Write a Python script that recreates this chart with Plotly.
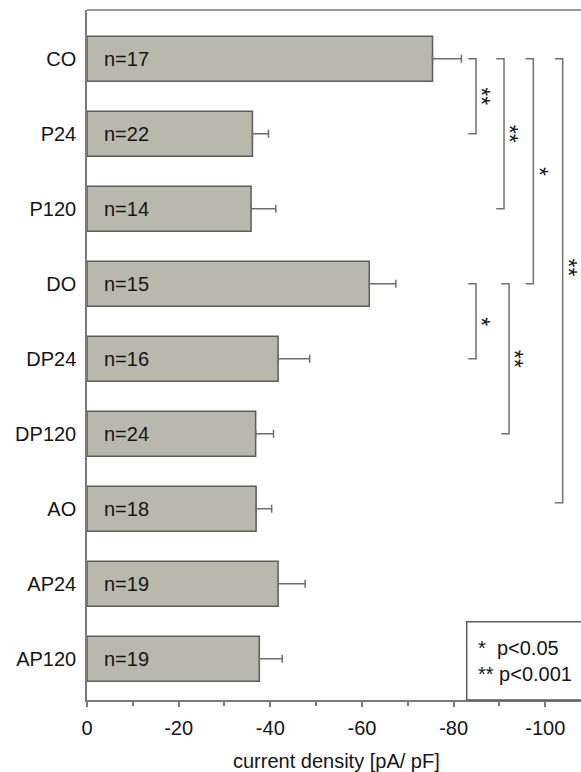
import plotly.graph_objects as go

categories = ["CO", "P24", "P120", "DO", "DP24", "DP120", "AO", "AP24", "AP120"]
n_labels = ["n=17", "n=22", "n=14", "n=15", "n=16", "n=24", "n=18", "n=19", "n=19"]
current_density = [-75.4, -36.1, -35.8, -61.6, -41.7, -36.8, -36.9, -41.7, -37.6]
sem = [6.3, 3.5, 5.4, 5.8, 6.9, 3.9, 3.4, 5.9, 5.0]

# significance brackets: (from category, to category, label)
brackets = [
    ("CO", "P24", "**"),
    ("CO", "P120", "**"),
    ("CO", "DO", "*"),
    ("CO", "AO", "**"),
    ("DO", "DP24", "*"),
    ("DO", "DP120", "**"),
]
bracket_x = [-84.9, -91.0, -97.4, -103.8, -84.9, -92.1]
bracket_label_y = [0.5, 1.0, 1.5, 2.78, 3.5, 4.0]

x_tickvals = [0, -20, -40, -60, -80, -100]
x_ticktext = ["0", "-20", "-40", "-60", "-80", "-100"]
x_title = "current density [pA/ pF]"
legend_lines = ["*&nbsp;&nbsp;p<0.05", "**&nbsp;p<0.001"]

FONT = "Liberation Sans, Arial, sans-serif"
AX = "#7a7a7a"
ypos = list(range(len(categories)))

fig = go.Figure()
fig.add_trace(go.Bar(
    y=ypos, x=current_density, orientation="h",
    marker=dict(color="#b9b8ac", line=dict(color="#5c5c5c", width=1.5)),
    error_x=dict(type="data", symmetric=False, array=[0] * len(sem), arrayminus=sem,
                 color="#6e6e6e", thickness=1.5, width=4),
    showlegend=False, hoverinfo="skip",
))

annotations = []
for yi, t in zip(ypos, n_labels):
    annotations.append(dict(x=0, y=yi, xref="x", yref="y", text=t, showarrow=False,
                            xanchor="left", yanchor="middle", xshift=15,
                            font=dict(family=FONT, size=20, color="#151515")))

shapes = []
arm = 1.7
idx = {c: i for i, c in enumerate(categories)}
for (a, b, lab), bx, ly in zip(brackets, bracket_x, bracket_label_y):
    y0, y1 = idx[a], idx[b]
    if b == "AO":
        y1 -= 0.08
    shapes.append(dict(type="path", xref="x", yref="y",
                       path=f"M {bx + arm},{y0} L {bx},{y0} L {bx},{y1} L {bx + arm},{y1}",
                       line=dict(color="#707070", width=1.5)))
    annotations.append(dict(x=bx, y=ly, xref="x", yref="y", text=lab, showarrow=False,
                            textangle=90, xanchor="center", yanchor="middle", xshift=5,
                            font=dict(family=FONT, size=23, color="#151515")))

# top frame line
shapes.append(dict(type="line", xref="paper", yref="paper", x0=0, x1=1, y0=1, y1=1,
                   line=dict(color=AX, width=1.5)))
# significance legend box
shapes.append(dict(type="rect", xref="paper", yref="paper", x0=0.7686, x1=1.02, y0=0, y1=0.1135,
                   line=dict(color="#5c5c5c", width=1.5), fillcolor="white", layer="above"))
annotations.append(dict(x=0.7865, y=0.056, xref="paper", yref="paper",
                        text="<br>".join(legend_lines), showarrow=False, align="left",
                        xanchor="left", yanchor="middle",
                        font=dict(family=FONT, size=20, color="#151515")))
annotations.append(dict(x=0.505, y=-0.088, xref="paper", yref="paper", text=x_title,
                        showarrow=False, xanchor="center", yanchor="middle",
                        font=dict(family=FONT, size=20, color="#151515")))

fig.update_layout(
    width=581, height=772,
    margin=dict(l=87, r=0, t=10, b=72),
    paper_bgcolor="white", plot_bgcolor="white",
    bargap=0.4,
    shapes=shapes, annotations=annotations,
    font=dict(family=FONT, size=20, color="#151515"),
    xaxis=dict(range=[0, -107.8], tickvals=x_tickvals, ticktext=x_ticktext,
               showgrid=False, zeroline=False, showline=True, linecolor=AX, linewidth=1.5,
               ticks="outside", ticklen=5, tickwidth=1.5, tickcolor=AX, ticklabelstandoff=4,
               minor=dict(tickvals=[-10, -30, -50, -70, -90], ticks="outside", ticklen=4,
                          tickwidth=1.5, tickcolor=AX),
               tickfont=dict(family=FONT, size=20, color="#151515")),
    yaxis=dict(range=[8.55, -0.65], tickvals=ypos, ticktext=categories,
               showgrid=False, zeroline=False, showline=True, linecolor=AX, linewidth=1.5,
               ticks="", ticklabelstandoff=5,
               tickfont=dict(family=FONT, size=20, color="#151515")),
)

fig.write_html("out.html")
